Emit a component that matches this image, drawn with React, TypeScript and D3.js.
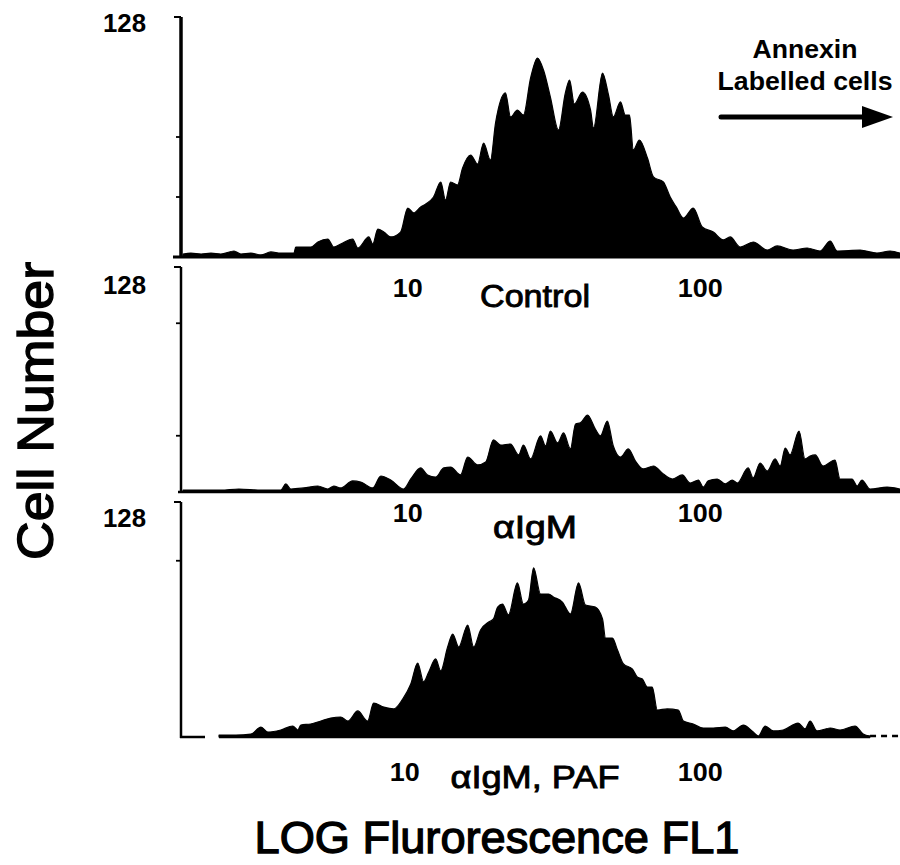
import React from "react";
import * as d3 from "d3";

// ---- data: [channel, cell count] (channel on 0..240 log-amplified scale) ----
const controlCounts: [number, number][] = [
  [0.7, 1.6], [3.3, 2.1], [6.7, 1.6], [10, 2.1], [13.3, 1.6], [17.7, 3.2], [20, 1.6], [23.3, 2.1],
  [26.7, 1.1], [30, 2.7], [33.3, 2.1], [36.7, 2.1], [37.7, 2.1], [38.3, 5.3], [43.3, 5.3], [45.7, 8],
  [49, 9.6], [51, 5.3], [53.3, 6.9], [57.3, 9.6], [59, 4.8], [62.7, 10.7], [64, 6.9], [65.7, 14.9],
  [67.7, 13.3], [70, 10.7], [73.3, 13.3], [75.7, 26.1], [77.7, 23.5], [80, 26.7], [81.7, 28.3],
  [84.3, 32], [86.7, 40], [88.3, 30.4], [90, 40], [92.3, 38.4], [94, 47.5], [96.7, 54.4], [99, 49.6],
  [101, 60.8], [103.3, 51.7], [105, 71.5], [108.3, 87.5], [110, 74.7], [112.3, 78.4], [114.3, 75.7],
  [116.7, 95.5], [119, 106.1], [121, 99.7], [123.3, 85.3], [126, 67.7], [128.3, 87.5], [129.7, 94.4],
  [131.3, 81.6], [134, 88], [136.7, 78.4], [137.7, 68.8], [140.7, 98.1], [142.7, 86.4], [144.3, 74.7],
  [146.7, 82.7], [148.3, 75.7], [149.7, 75.7], [151, 57.1], [153, 62.4], [155.7, 52.8], [157.7, 42.7],
  [161, 40], [163.3, 32], [165.3, 26.7], [167.7, 20.8], [171, 26.1], [174, 16], [177.7, 13.3],
  [181, 9.1], [183.3, 10.7], [186.7, 5.3], [191, 8], [195.7, 3.7], [199, 5.9], [204.3, 3.7], [209, 4.8],
  [213.3, 3.2], [216.7, 8.5], [219, 3.2], [226.7, 3.7], [232.3, 2.1], [236.7, 3.2], [240, 2.1],
];

const igmCounts: [number, number][] = [
  [0.7, 1.1], [6.7, 1.1], [13.3, 1.1], [19.3, 1.7], [26.7, 1.1], [33.3, 1.1], [35, 4.6], [36.7, 1.7],
  [41, 2.3], [45.7, 3.4], [49, 1.7], [51, 3.4], [53.3, 2.3], [57.3, 6.3], [60, 5.7], [64, 2.3],
  [66.7, 9.1], [70, 6.8], [74.3, 1.7], [76.7, 7.4], [80, 13.7], [82.3, 9.7], [85, 8.5], [87.7, 13.7],
  [90, 14.2], [93.3, 9.7], [95.7, 19.9], [99, 15.4], [101.7, 17.1], [104.3, 29.6], [106.7, 26.7],
  [110, 27.3], [112.7, 21.1], [114.3, 26.7], [116.7, 18.8], [120, 31.9], [121.7, 26.2], [123.3, 34.7],
  [125.7, 27.9], [127.7, 33.6], [130, 24.5], [131.7, 38.7], [133.3, 39.3], [135.7, 43.8], [138.3, 35.8],
  [140, 31.9], [142.3, 40.4], [144.3, 26.2], [146.7, 19.9], [149.3, 24.5], [151.7, 17.6], [154.3, 13.1],
  [157.7, 14.8], [161, 10.2], [164, 7.4], [167.3, 9.7], [170, 5.1], [172.7, 6.8], [174.3, 2.8],
  [176, 6.3], [179, 7.4], [181.7, 4.6], [184, 6.8], [185.7, 5.1], [189.3, 13.7], [191, 8], [193.3, 16.5],
  [195.7, 11.9], [198.3, 18.8], [200, 14.8], [201.7, 25], [203.3, 21.1], [206.3, 34.7], [208.3, 18.8],
  [210, 20.5], [211.7, 21.1], [214.3, 14.8], [218.3, 18.2], [220, 7.4], [224, 7.4], [225.7, 3.4],
  [227.3, 6.8], [230, 1.7], [235.7, 2.8], [240, 1.7],
];

const igmPafCounts: [number, number][] = [
  [12.7, 1.1], [18.3, 1.1], [23.3, 1.6], [26.7, 5.4], [29, 2.7], [33.3, 3.8], [37.3, 6], [39, 3.8],
  [40, 6.5], [43.3, 7.1], [46.7, 8.7], [50, 10.3], [53.3, 10.9], [55.7, 8.7], [59, 14.2], [62.3, 8.7],
  [64.3, 18.5], [67.7, 16.3], [71, 15.3], [74, 20.7], [76.7, 28.9], [79, 40.3], [81, 30], [82.7, 35.4],
  [85, 42.5], [86.7, 36], [89, 49], [90.7, 56.1], [92.7, 49], [95.7, 61], [97.7, 49], [100, 58.3],
  [102.7, 62.6], [104.3, 64.3], [105.7, 70.8], [107.3, 72.4], [109.3, 66.5], [112.3, 83.9], [114.3, 72.4],
  [116, 74.6], [117.7, 92.1], [120, 77.9], [122.7, 77.9], [124.3, 76.3], [127.3, 73.5], [130, 67],
  [132.7, 83.9], [135, 71.9], [138.3, 70.8], [140.7, 64.3], [141.7, 53.9], [144, 53.9], [145.7, 47.4],
  [147.7, 39.8], [150.7, 37], [152.3, 32.7], [154, 31.6], [155.7, 27.2], [157.3, 27.2], [159, 14.7],
  [162.3, 15.3], [166, 14.7], [167.7, 8.7], [171, 7.1], [174.3, 4.9], [177.7, 4.9], [181.7, 5.4],
  [184.3, 3.3], [187.7, 6.5], [191, 2.7], [192.7, 0.5], [195, 6], [197.7, 3.3], [201, 3.8], [206, 7.6],
  [208.3, 4.4], [210, 8.7], [212.3, 3.3], [216.7, 4.9], [220, 3.8], [225, 6], [227.7, 1.6], [230, 0.5],
];

const panelNames = ["Control", "\u03b1IgM", "\u03b1IgM, PAF"];
const panelSeries = [controlCounts, igmCounts, igmPafCounts];
const yMaxLabel = "128";
const yMax = 128;
const yTickValues = [[32, 64], [32, 96], [96]];
const xTickLabels = ["10", "100"];
const xTickChannels = [75.7, 173.3];
const channelDomain: [number, number] = [0, 240];

// ---- layout ----
const W = 900;
const H = 865;
const FONT = "'Liberation Sans', Arial, Helvetica, sans-serif";
const panels = [
  { top: 17, base: 257, axisW: 3.5, labelBase: 297, nameBase: 307, nameW: 110, y128: 32 },
  { top: 267, base: 492, axisW: 2.5, labelBase: 522, nameBase: 538, nameW: 84, y128: 294 },
  { top: 502, base: 737, axisW: 2.5, labelBase: 781, nameBase: 788, nameW: 169, y128: 527 },
];

export default function App() {
  const x = d3.scaleLinear().domain(channelDomain).range([181, 900]);

  return (
    <svg
      width={W}
      height={H}
      viewBox={`0 0 ${W} ${H}`}
      style={{ position: "absolute", left: 0, top: 0, background: "#fff", display: "block" }}
      fontFamily={FONT}
    >
      <rect x={0} y={0} width={W} height={H} fill="#fff" />
      {panels.map((p, i) => {
        const y = d3.scaleLinear().domain([0, yMax]).range([p.base, p.top]);
        const area = d3
          .area<[number, number]>()
          .x((d) => x(d[0]))
          .y0(p.base)
          .y1((d) => y(d[1]))
          .curve(d3.curveMonotoneX);
        const data = panelSeries[i];
        const first = data[0][0];
        const last = data[data.length - 1][0];
        return (
          <g key={i}>
            <path d={area(data) || ""} fill="#000" stroke="#000" strokeWidth={1.2} strokeLinejoin="round" />
            {/* y axis */}
            <line x1={181} x2={181} y1={p.top} y2={p.base + 1} stroke="#000" strokeWidth={p.axisW} />
            <line x1={174} x2={181} y1={p.top} y2={p.top} stroke="#000" strokeWidth={2} />
            {yTickValues[i].map((t) => (
              <line key={t} x1={176} x2={181} y1={y(t)} y2={y(t)} stroke="#000" strokeWidth={1.8} />
            ))}
            {/* baseline */}
            {i === 0 && (
              <line x1={173} x2={900} y1={p.base} y2={p.base} stroke="#000" strokeWidth={3} />
            )}
            {i === 1 && (
              <line x1={178} x2={900} y1={p.base} y2={p.base} stroke="#000" strokeWidth={2.5} />
            )}
            {i === 2 && (
              <g>
                <line x1={180} x2={205} y1={p.base} y2={p.base} stroke="#000" strokeWidth={2.5} />
                <line x1={x(first)} x2={x(last)} y1={p.base} y2={p.base} stroke="#000" strokeWidth={2.5} />
                <line
                  x1={x(last)}
                  x2={900}
                  y1={p.base - 1}
                  y2={p.base - 1}
                  stroke="#000"
                  strokeWidth={2.5}
                  strokeDasharray="6 5"
                />
              </g>
            )}
            {/* 128 label */}
            <text x={146} y={p.y128} textAnchor="end" fontSize={25} fontWeight="bold" textLength={43} lengthAdjust="spacingAndGlyphs">
              {yMaxLabel}
            </text>
            {/* x tick labels */}
            {xTickLabels.map((lab, k) => (
              <text
                key={lab}
                x={x(xTickChannels[k]) + (i === 2 && k === 0 ? -3 : 0)}
                y={p.labelBase}
                textAnchor="middle"
                fontSize={26}
                fontWeight="bold"
                textLength={lab.length * 15}
                lengthAdjust="spacingAndGlyphs"
              >
                {lab}
              </text>
            ))}
            {/* panel name */}
            <text
              x={535}
              y={p.nameBase}
              textAnchor="middle"
              fontSize={32}
              stroke="#000"
              strokeWidth={0.9}
              textLength={p.nameW}
              lengthAdjust="spacingAndGlyphs"
            >
              {panelNames[i]}
            </text>
          </g>
        );
      })}

      {/* annotation */}
      <text x={805} y={58} textAnchor="middle" fontSize={26} fontWeight="bold" textLength={105} lengthAdjust="spacingAndGlyphs">
        Annexin
      </text>
      <text x={805} y={90} textAnchor="middle" fontSize={26} fontWeight="bold" textLength={175} lengthAdjust="spacingAndGlyphs">
        Labelled cells
      </text>
      <line x1={721} x2={866} y1={117} y2={117} stroke="#000" strokeWidth={5} strokeLinecap="round" />
      <path d="M862,106 L893,117 L862,128 Z" fill="#000" />

      {/* axis titles */}
      <text
        transform="translate(53,411) rotate(-90)"
        textAnchor="middle"
        fontSize={50}
        stroke="#000"
        strokeWidth={1.4}
        textLength={298}
        lengthAdjust="spacingAndGlyphs"
      >
        Cell Number
      </text>
      <text
        x={497}
        y={853}
        textAnchor="middle"
        fontSize={45}
        stroke="#000"
        strokeWidth={1.3}
        textLength={485}
        lengthAdjust="spacingAndGlyphs"
      >
        LOG Flurorescence FL1
      </text>
    </svg>
  );
}
